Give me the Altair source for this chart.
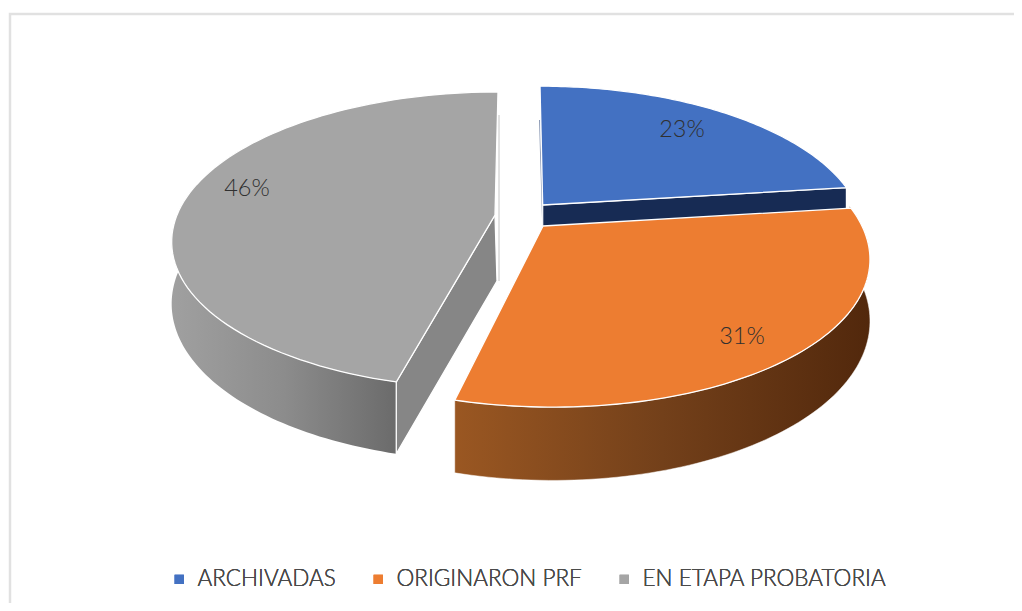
import math
import altair as alt
import pandas as pd

categories = ["ARCHIVADAS", "ORIGINARON PRF", "EN ETAPA PROBATORIA"]
values = [23, 31, 46]
labels = ["23%", "31%", "46%"]
colors = ["#4371c2", "#ed7d31", "#a5a5a5"]

# 3-D pie view parameters of each exploded slice
apex_x = [542.7, 543, 495]
apex_y = [205, 226, 215]
rad_x = [314, 319, 318]
rad_y = [142, 145.8, 144]
persp = [0.195, 0.195, 0.17]
shear = [-3.2, -8, 3.5]
depth = [60, 59, 60]
label_x = [682, 742, 247]
label_y = [130, 337, 189]

W, H = 1006, 595
X = alt.X("x:Q", scale=alt.Scale(domain=[8, 8 + W], nice=False), axis=None)
Y = alt.Y("y:Q", scale=alt.Scale(domain=[8 + H, 8], nice=False), axis=None)


def pt(i, deg, d=0.0):
    t = math.radians(deg)
    u, v = math.sin(t), math.cos(t)
    q = 1 + persp[i] * v
    return (apex_x[i] + (rad_x[i] * u + shear[i] * v) / q,
            apex_y[i] + (-rad_y[i] * v + d) / q)


def arc(i, a0, a1, d=0.0, n=90):
    return [pt(i, a0 + (a1 - a0) * k / n, d) for k in range(n + 1)]


def frame(points, name=None):
    rows = [{"x": p[0], "y": p[1], "k": k} for k, p in enumerate(points)]
    if name:
        for r in rows:
            r["series"] = name
    return pd.DataFrame(rows)


starts = [sum(values[:i]) * 3.6 for i in range(3)]
ends = [sum(values[:i + 1]) * 3.6 for i in range(3)]


def poly(points, **kw):
    return alt.Chart(frame(points + points[:1])).mark_line(**kw).encode(
        x=X, y=Y, order="k:Q")


def seg(points, **kw):
    return alt.Chart(frame(points)).mark_line(**kw).encode(x=X, y=Y, order="k:Q")


def grad(c0, c1, c2=None):
    stops = [alt.GradientStop(color=c0, offset=0)]
    if c2:
        stops.append(alt.GradientStop(color=c1, offset=0.5))
        stops.append(alt.GradientStop(color=c2, offset=1))
    else:
        stops.append(alt.GradientStop(color=c1, offset=1))
    return alt.LinearGradient(gradient="linear", x1=0, x2=1, y1=0, y2=0, stops=stops)


def wall(i, a0, a1):
    return arc(i, a0, a1) + arc(i, a1, a0, depth[i])


def top(i):
    pts = [(apex_x[i], apex_y[i])] + arc(i, starts[i], ends[i])
    return alt.Chart(frame(pts + pts[:1], categories[i])).mark_line(
        stroke="white", strokeWidth=1.3, strokeJoin="round"
    ).encode(
        x=X, y=Y, order="k:Q",
        fill=alt.Fill("series:N", scale=alt.Scale(domain=categories, range=colors),
                      legend=alt.Legend(
                          orient="none", legendX=160, legendY=560, direction="horizontal",
                          title=None, symbolType="square", symbolSize=85, symbolStrokeWidth=0,
                          labelFont="Lato", labelFontSize=22.5, labelFontWeight=300,
                          labelColor="#4a4a4a",
                          labelLimit=400, columnPadding=31, labelOffset=7, columns=3)),
    )


# hidden straight face of the blue slice, seen below its top
blue_face = [(apex_x[0], apex_y[0]), pt(0, ends[0]), pt(0, ends[0], 60),
             (apex_x[0], apex_y[0] + 60)]
# straight face of the grey slice
g_rim = pt(2, starts[2])
g_low = pt(2, starts[2], depth[2])
gray_face = [(apex_x[2], apex_y[2]), g_rim, g_low, (apex_x[2] + 2, apex_y[2] + 66)]

layers = [
    seg([(apex_x[0] - 3.2, apex_y[0] - 85), (apex_x[0], apex_y[0] + 20)],
        stroke="#8c9ab5", strokeWidth=1),
    poly(blue_face, fill="#172b54", stroke="white", strokeWidth=1.2),
    top(0),
    poly(wall(1, 82, ends[1]),
         fill=grad("#9a5722", "#73401a", "#52280c"), stroke="white", strokeWidth=0.5),
    top(1),
    seg([(apex_x[2] + 4, apex_y[2] - 100), (apex_x[2] + 4, apex_y[2] + 66)],
        stroke="#c4c4c4", strokeWidth=1),
    poly(wall(2, starts[2], 300),
         fill=grad("#a0a0a0", "#8c8c8c", "#6b6b6b"), stroke="white", strokeWidth=0),
    poly(gray_face, fill="#868686", stroke="white", strokeWidth=1.3),
    top(2),
]

lab = pd.DataFrame({"x": label_x, "y": label_y, "t": labels})
layers.append(alt.Chart(lab).mark_text(font="Lato", fontSize=23.5, fontWeight=300, color="#303030").encode(
    x=X, y=Y, text="t:N"))

# thin chart frame along top and left
fx = [10, 10, 8 + W]
fy = [8 + H, 14, 14]
layers.append(alt.Chart(pd.DataFrame({"x": fx, "y": fy, "k": [0, 1, 2]})).mark_line(
    stroke="#e1e1e1", strokeWidth=2.5).encode(x=X, y=Y, order="k:Q"))

chart = alt.layer(*layers).resolve_scale(fill="independent").properties(
    width=W, height=H,
    padding={"left": 0, "right": 0, "top": 0, "bottom": 0},
    autosize=alt.AutoSizeParams(type="none", contains="padding"),
).configure_view(stroke=None)

chart.save("out.html", embed_options={"renderer": "svg", "actions": False})
